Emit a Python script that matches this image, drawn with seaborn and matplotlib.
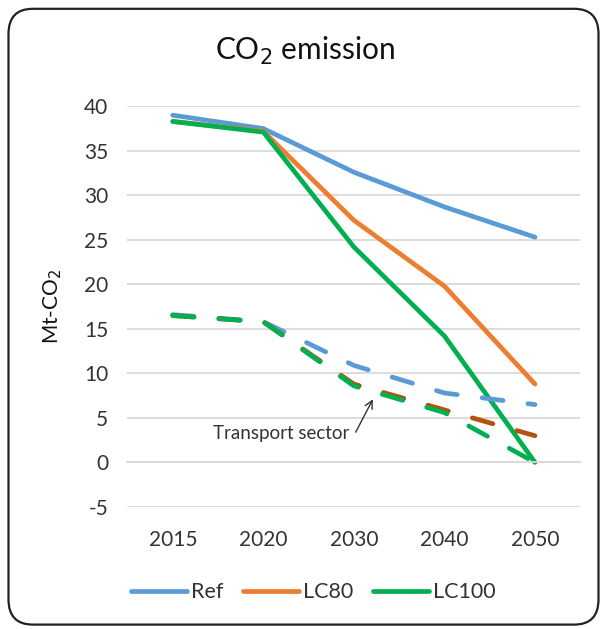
import pandas as pd
import seaborn as sns
import matplotlib.pyplot as plt
from matplotlib.patches import FancyBboxPatch

# ---- data ----
years = ["2015", "2020", "2030", "2040", "2050"]
ref_total = [39.0, 37.5, 32.6, 28.7, 25.3]
lc80_total = [38.3, 37.2, 27.2, 19.8, 8.8]
lc100_total = [38.3, 37.1, 24.2, 14.2, 0.0]
ref_transport = [16.6, 15.8, 10.9, 7.8, 6.5]
lc80_transport = [16.5, 15.8, 8.8, 5.9, 3.0]
lc100_transport = [16.5, 15.8, 8.6, 5.6, 0.0]

colors = {"Ref": "#5B9BD5", "LC80": "#ED7D31", "LC100": "#00B050"}
transport_colors = {"Ref": "#5B9BD5", "LC80": "#B5500F", "LC100": "#00B050"}

sns.set_theme(style="white")
plt.rcParams["font.family"] = ["Lato", "DejaVu Sans"]
plt.rcParams["axes.unicode_minus"] = False

fig = plt.figure(figsize=(6.07, 6.29), dpi=100)
ax = fig.add_axes([0.21, 0.194, 0.746, 0.637])

# rounded chart border
fig.patches.append(FancyBboxPatch((0.014, 0.007), 0.972, 0.979,
                                  boxstyle="round,pad=0,rounding_size=0.04",
                                  transform=fig.transFigure, fill=False,
                                  edgecolor="#222222", linewidth=1.6))

totals = {"Ref": ref_total, "LC80": lc80_total, "LC100": lc100_total}
transport = {"Ref": ref_transport, "LC80": lc80_transport, "LC100": lc100_transport}

for name, vals in totals.items():
    sns.lineplot(x=years, y=vals, ax=ax, color=colors[name], linewidth=3.4,
                 label=name, sort=False, solid_capstyle="round")

for name, vals in transport.items():
    sns.lineplot(x=years, y=vals, ax=ax, color=transport_colors[name], linewidth=3.4,
                 sort=False, dashes=False, legend=False)
    ax.lines[-1].set_dashes((4.5, 5.3))
    ax.lines[-1].set_dash_capstyle("round")

ax.set_ylim(-5, 40)
ax.set_xlim(-0.5, 4.5)
ax.set_yticks(range(-5, 41, 5))
ax.yaxis.grid(True, color="#D9D9D9", linewidth=1.3)
ax.set_axisbelow(True)
for side in ["left", "right", "top"]:
    ax.spines[side].set_visible(False)
ax.spines["bottom"].set_position(("data", 0))
ax.spines["bottom"].set_color("#D9D9D9")
ax.spines["bottom"].set_linewidth(1.3)
ax.tick_params(axis="x", direction="inout", length=9, width=1.3, color="#D9D9D9",
               pad=44, labelsize=15, labelcolor="#333333")
ax.tick_params(axis="y", length=0, pad=14, labelsize=15, labelcolor="#333333")
ax.set_xlabel("")
ax.set_ylabel("Mt-CO$_2$", fontsize=15, color="#111111", labelpad=14)

fig.text(0.503, 0.919, "CO$_2$ emission", ha="center", va="center",
         fontsize=21.5, color="#111111")

# transport sector label with short arrow
ax.text(1.95, 3.3, "Transport sector", ha="right", va="center",
        fontsize=13.5, color="#333333")
ax.annotate("", xy=(2.21, 7.1), xytext=(2.02, 3.4),
            arrowprops=dict(arrowstyle="->", color="#333333", lw=1.0,
                            shrinkA=0, shrinkB=0, mutation_scale=14))

handles, labels = ax.get_legend_handles_labels()
ax.legend(handles[:3], labels[:3], loc="center", bbox_to_anchor=(0.41, -0.213),
          ncol=3, frameon=False, fontsize=15.5, handlelength=2.6,
          handletextpad=0.2, columnspacing=0.9, labelcolor="#333333")

fig.savefig("out.png", dpi=100)
